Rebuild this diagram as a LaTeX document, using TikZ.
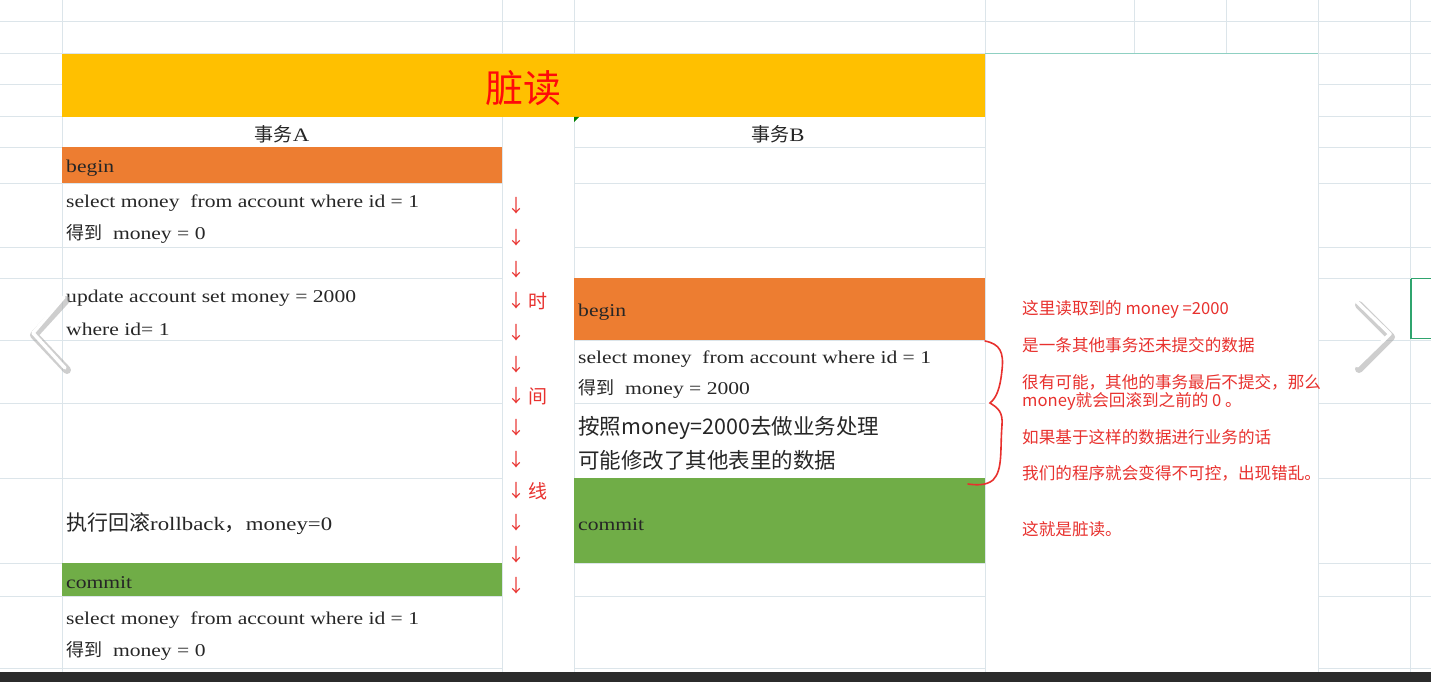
\documentclass[tikz,border=0pt]{standalone}
\usepackage{fontspec}
\setmainfont{Liberation Serif}[FakeStretch=1.2]
\newfontfamily\cjk{Noto Sans CJK SC}
\definecolor{gridc}{HTML}{DCE5EA}
\definecolor{gold}{HTML}{FFC000}
\definecolor{orng}{HTML}{ED7D31}
\definecolor{grn}{HTML}{70AD47}
\definecolor{titler}{HTML}{FF0A0A}
\definecolor{noter}{HTML}{E8312E}
\definecolor{darkbar}{HTML}{2B2B2B}
\definecolor{teal}{HTML}{8FD0C2}
\definecolor{selg}{HTML}{2FA46E}
\begin{document}
\begin{tikzpicture}[x=1pt,y=-1pt,
  gridline/.style={draw=gridc,line width=1pt},
  cell/.style={anchor=west,inner sep=0pt,text=black!85,font=\fontsize{18}{18}\selectfont},
  bigcell/.style={anchor=west,inner sep=0pt,text=black!85,font=\cjk\fontsize{21.5}{21.5}\selectfont},
  head/.style={inner sep=0pt,text=black!85,font=\fontsize{19}{19}\selectfont},
  note/.style={anchor=west,inner sep=0pt,text=noter,font=\cjk\fontsize{16.6}{16.6}\selectfont},
  tarrow/.style={inner sep=0pt,text=noter,font=\cjk\fontsize{18}{18}\selectfont},
  tchar/.style={inner sep=0pt,text=noter,font=\cjk\fontsize{19}{19}\selectfont},
  chev/.style={line width=3.5pt,draw=white,line cap=round,line join=round},
  chevshadow/.style={line width=8pt,draw=gray!70,opacity=0.55,line cap=round,line join=round}
]
\useasboundingbox (0,0) rectangle (1431,682);
\fill[white] (0,0) rectangle (1431,682);
% grid
\foreach \yy in {22,54,85,117,147,183,247,278,340,403,478,563,596,668}
  \draw[gridline] (0,\yy) -- (1431,\yy);
\foreach \xx in {62,502,574,985,1134,1226,1318,1410}
  \draw[gridline] (\xx,0) -- (\xx,672);
% merged cells
\fill[white] (503,118) rectangle (573.5,672);
\fill[white] (985.5,54.5) rectangle (1317.5,672);
\draw[teal,line width=1pt] (985,54) -- (1318,54);
% coloured cells
\fill[gold] (62,54) rectangle (985,117);
\fill[orng] (62,147) rectangle (502,183);
\fill[orng] (574,278) rectangle (985,340);
\fill[grn] (574,478) rectangle (985,563);
\fill[grn] (62,563) rectangle (502,596);
\fill[green!50!black] (574,117) -- (579,117) -- (574,122) -- cycle;
% bottom bar
\fill[darkbar] (0,672) rectangle (1431,682);
% title and headers
\node[inner sep=0pt,text=titler,font=\cjk\fontsize{38}{38}\selectfont] (title) at (523,88) {脏读};
\node[head] (hA) at (282,134) {{\cjk 事务}A};
\node[head] (hB) at (778,134) {{\cjk 事务}B};
% column A
\node[cell] (aBegin) at (66,168) {begin};
\node[cell] (aSel1) at (66,203) {select money\ \ from account where id = 1};
\node[cell] (aSel2) at (66,234) {{\cjk 得到}\ \ money = 0};
\node[cell] (aUpd1) at (66,298) {update account set money = 2000};
\node[cell] (aUpd2) at (66,329) {where id= 1};
\node[cell,font=\fontsize{19}{19}\selectfont] (aRb) at (66,524) {{\cjk\fontsize{21}{21}\selectfont 执行回滚}rollback{\cjk\fontsize{21}{21}\selectfont ，}money=0};
\node[cell] (aCommit) at (66,583) {commit};
\node[cell] (aSel3) at (66,620) {select money\ \ from account where id = 1};
\node[cell] (aSel4) at (66,651) {{\cjk 得到}\ \ money = 0};
% column B
\node[cell] (bBegin) at (578,312) {begin};
\node[cell] (bSel1) at (578,359) {select money\ \ from account where id = 1};
\node[cell] (bSel2) at (578,389) {{\cjk 得到}\ \ money = 2000};
\node[bigcell] (bProc1) at (578,428) {按照money=2000去做业务处理};
\node[bigcell] (bProc2) at (578,460) {可能修改了其他表里的数据};
\node[cell] (bCommit) at (578,525) {commit};
% time line
\foreach \i in {0,...,12}
  \node[tarrow] (arr\i) at (516,{206+31.67*\i}) {↓};
\node[tchar] (tShi) at (538,301) {时};
\node[tchar] (tJian) at (538,396) {间};
\node[tchar] (tXian) at (538,491) {线};
% notes
\node[note] (n1) at (1022,309) {这里读取到的 money =2000};
\node[note] (n2) at (1022,345) {是一条其他事务还未提交的数据};
\node[note] (n3) at (1022,382) {很有可能，其他的事务最后不提交，那么};
\node[note] (n4) at (1022,401) {money就会回滚到之前的 0 。};
\node[note] (n5) at (1022,437) {如果基于这样的数据进行业务的话};
\node[note] (n6) at (1022,473) {我们的程序就会变得不可控，出现错乱。};
\node[note] (n7) at (1022,529) {这就是脏读。};
% brace
\draw[noter,line width=1.6pt,line cap=round] (985,341) .. controls (1000,344) and (1004,352) .. (1002,370)
  .. controls (1000,390) and (996,398) .. (990,403)
  .. controls (998,408) and (1003,412) .. (1002,425)
  .. controls (1000,450) and (1003,470) .. (993,480)
  .. controls (986,486) and (975,485) .. (968,484);
% viewer chevrons
\draw[chevshadow] (66,300) -- (34,335) -- (67,370);
\draw[chev] (64,297) -- (33,333) -- (65,368);
\draw[chevshadow] (1359,305) -- (1391,337) -- (1359,369);
\draw[chev] (1357,302) -- (1390,334) -- (1357,366);
% selected cell
\draw[selg,line width=1.6pt] (1411,278.5) -- (1431,278.5) (1411,278.5) -- (1411,338.5) -- (1431,338.5);
\end{tikzpicture}
\end{document}
